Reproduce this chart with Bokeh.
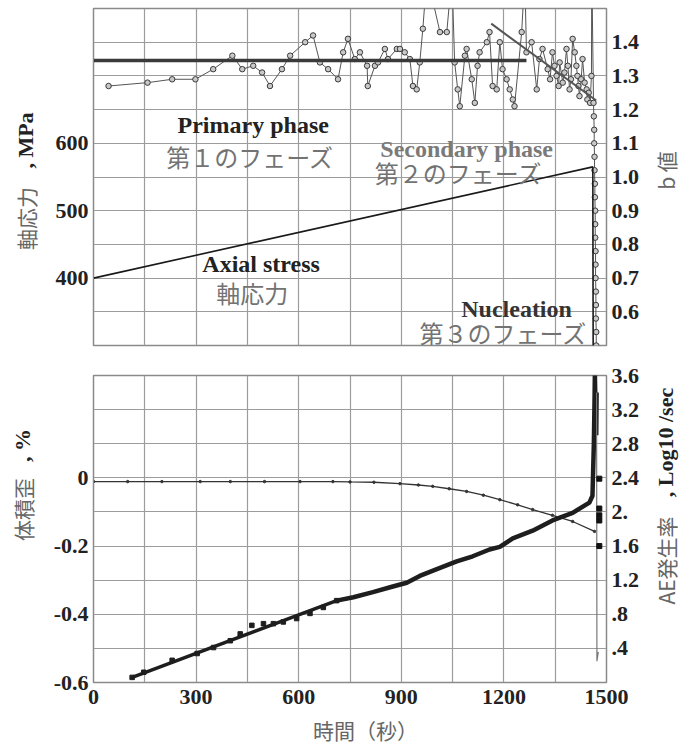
import math
from bokeh.plotting import figure
from bokeh.models import Range1d, LinearAxis, FixedTicker, Label
from bokeh.layouts import column, row
from bokeh.embed import file_html
from bokeh.resources import INLINE

# ---------------- data ----------------
# top panel: b value (right axis) vs time (s)
b_t = [44, 158, 230, 298, 350, 406, 435, 467, 493, 516,
       551, 575, 619, 642, 662, 686, 715, 730, 744, 764,
       779, 800, 802, 823, 832, 852, 861, 887, 896, 910,
       925, 934, 945, 954, 963, 975, 1013, 1033, 1048, 1056,
       1065, 1071, 1086, 1091, 1106, 1115, 1123, 1129, 1150, 1158,
       1167, 1179, 1188, 1196, 1208, 1217, 1226, 1231, 1252, 1261,
       1266, 1281, 1296, 1304, 1313, 1328, 1335, 1342, 1348, 1354,
       1360, 1363, 1372, 1377, 1383, 1387, 1392, 1396, 1401, 1407,
       1412, 1415, 1418, 1421, 1426, 1430, 1436, 1442, 1444, 1448,
       1452, 1456, 1457, 1462, 1463, 1464, 1464, 1465, 1465, 1466,
       1466, 1467, 1467, 1467, 1468, 1468, 1468, 1469, 1469, 1469,
       1470, 1470]
b_v = [1.27, 1.28, 1.29, 1.29, 1.32, 1.36, 1.32, 1.33, 1.31, 1.27,
       1.32, 1.36, 1.40, 1.42, 1.34, 1.32, 1.29, 1.37, 1.41, 1.35,
       1.37, 1.33, 1.27, 1.33, 1.34, 1.38, 1.35, 1.38, 1.38, 1.37,
       1.35, 1.27, 1.26, 1.34, 1.44, 1.60, 1.43, 1.43, 1.60, 1.34,
       1.26, 1.21, 1.36, 1.38, 1.29, 1.22, 1.33, 1.37, 1.40, 1.43,
       1.27, 1.26, 1.40, 1.32, 1.29, 1.26, 1.23, 1.21, 1.43, 1.60,
       1.37, 1.40, 1.26, 1.35, 1.38, 1.32, 1.29, 1.37, 1.33, 1.30,
       1.27, 1.34, 1.28, 1.31, 1.38, 1.33, 1.26, 1.29, 1.41, 1.37,
       1.33, 1.30, 1.27, 1.24, 1.29, 1.35, 1.28, 1.26, 1.23, 1.25,
       1.22, 1.30, 1.62, 1.22, 1.18, 1.14, 1.10, 1.06, 1.02, 0.98,
       0.94, 0.90, 0.86, 0.82, 0.78, 0.74, 0.70, 0.66, 0.62, 0.58,
       0.54, 0.50]
# b value fits (primary flat level, secondary decreasing trend)
bfit1_t = [0, 1266]
bfit1_v = [1.346, 1.346]
bfit2_t = [1163, 1470]
bfit2_v = [1.455, 1.227]
# axial stress (left axis, MPa)
stress_t = [0, 1460, 1461]
stress_v = [400, 565, 300]

# bottom panel: volumetric strain (%) and AE rate (log10 /sec)
strain_t = [0, 100, 200, 312, 400, 500, 604, 700, 750, 820,
            896, 950, 992, 1040, 1091, 1140, 1188, 1240, 1284, 1342,
            1401, 1465]
strain_v = [-0.011, -0.011, -0.011, -0.011, -0.011, -0.011, -0.011, -0.011, -0.012, -0.013,
            -0.017, -0.021, -0.025, -0.032, -0.040, -0.051, -0.064, -0.079, -0.093, -0.110,
            -0.128, -0.157]
# early AE readings (markers) and their straight trend
ae_early_t = [113, 147, 230, 303, 351, 400, 429, 463, 497, 526, 555, 594, 633, 672, 711]
ae_early_v = [0.06, 0.12, 0.26, 0.34, 0.41, 0.49, 0.57, 0.67, 0.69, 0.69, 0.71, 0.75, 0.81, 0.88, 0.96]
ae_trend_t = [113, 711]
ae_trend_v = [0.06, 0.96]
# later AE rate up to failure
ae_t = [711, 760, 817, 870, 916, 954, 1004, 1062, 1109, 1158,
        1188, 1226, 1284, 1342, 1401, 1450, 1459, 1463, 1465, 1466,
        1467, 1468, 1469, 1470, 1471]
ae_v = [0.96, 1.00, 1.06, 1.12, 1.17, 1.25, 1.33, 1.42, 1.48, 1.56,
        1.59, 1.69, 1.78, 1.90, 1.99, 2.11, 2.19, 2.80, 3.30, 3.62,
        3.40, 2.95, 3.35, 2.90, 3.40]
# collapse after failure (thin)
ae_drop_t = [1471, 1472, 1476]
ae_drop_v = [3.40, 0.25, 0.36]
ae_post_t = [1479, 1479, 1479, 1479, 1479]
ae_post_v = [2.39, 2.04, 1.96, 1.90, 1.60]

# axes / ticks
x_ticks = [0, 300, 600, 900, 1200, 1500]
stress_ticks = [400, 500, 600]
b_ticks = [0.6, 0.7, 0.8, 0.9, 1.0, 1.1, 1.2, 1.3, 1.4]
b_labels = ["0.6", "0.7", "0.8", "0.9", "1.0", "1.1", "1.2", "1.3", "1.4"]
strain_ticks = [-0.6, -0.4, -0.2, 0]
strain_labels = ["-0.6", "-0.4", "-0.2", "0"]
ae_ticks = [0.4, 0.8, 1.2, 1.6, 2.0, 2.4, 2.8, 3.2, 3.6]
ae_labels = [".4", ".8", "1.2", "1.6", "2.", "2.4", "2.8", "3.2", "3.6"]

# ---------------- styling ----------------
SERIF = "Liberation Serif"
CJK = "Noto Sans CJK JP"
GRID = "#9c9c9c"
OUTLINE = "#8a8a8a"
DARK = "#222222"
JGRAY = "#737373"
TGRAY = "#666666"
TICK_SIZE = "22px"

LW, MW, RW = 42, 600, 39          # widths: left title strip, main plot, right title strip
H1, H2, H3 = 357, 357, 32         # heights: top row, bottom row, x-title strip
BL, BR = 51, 35                   # main plot borders (left / right)
UP = math.pi / 2


def style_axis(ax):
    ax.major_label_text_font = SERIF
    ax.major_label_text_font_style = "bold"
    ax.major_label_text_font_size = TICK_SIZE
    ax.major_label_text_color = DARK
    ax.major_tick_in = 0
    ax.major_tick_out = 0
    ax.minor_tick_line_color = None
    ax.axis_line_color = OUTLINE
    ax.major_label_standoff = 5


def base(fig):
    fig.outline_line_color = OUTLINE
    fig.outline_line_width = 1.5
    fig.background_fill_color = "white"
    fig.border_fill_color = "white"
    for g in fig.grid:
        g.grid_line_color = GRID
        g.grid_line_width = 1.2


def lab(fig, text, x, y, size, color, font=SERIF, style="normal", angle=0.0,
        align="center", units="data"):
    fig.add_layout(Label(x=x, y=y, x_units=units, y_units=units, text=text,
                         text_font=font, text_font_size=size, text_color=color,
                         text_font_style=style, angle=angle, text_align=align,
                         text_baseline="middle"))


def strip(w, h):
    f = figure(width=w, height=h, x_range=Range1d(0, 1), y_range=Range1d(0, 1),
               x_axis_location=None, y_axis_location=None, output_backend="svg",
               toolbar_location=None, min_border=0, min_border_left=0, min_border_right=0,
               min_border_top=0, min_border_bottom=0)
    f.outline_line_color = None
    f.grid.visible = False
    f.background_fill_color = "white"
    f.border_fill_color = "white"
    return f


# ---------------- top panel ----------------
p1 = figure(width=MW, height=H1, x_range=Range1d(0, 1500), y_range=Range1d(300, 800),
            x_axis_location=None, output_backend="svg", toolbar_location=None,
            min_border_left=BL, min_border_right=BR, min_border_top=8, min_border_bottom=12)
p1.extra_y_ranges = {"b": Range1d(0.5, 1.5)}
base(p1)
p1.xgrid.ticker = FixedTicker(ticks=list(range(0, 1501, 150)))
p1.ygrid.ticker = FixedTicker(ticks=list(range(300, 801, 50)))
p1.yaxis.ticker = FixedTicker(ticks=stress_ticks)
style_axis(p1.yaxis[0])
axb = LinearAxis(y_range_name="b", ticker=FixedTicker(ticks=b_ticks),
                 major_label_overrides=dict(zip(b_ticks, b_labels)))
style_axis(axb)
p1.add_layout(axb, "right")

# b value data
p1.line(b_t, b_v, y_range_name="b", line_color="#555555", line_width=1)
p1.scatter(b_t, b_v, y_range_name="b", marker="circle", size=5.5,
           fill_color="#c8c8c8", line_color="#3a3a3a", line_width=1)
p1.line(bfit1_t, bfit1_v, y_range_name="b", line_color="#3a3a3a", line_width=3.5)
p1.line(bfit2_t, bfit2_v, y_range_name="b", line_color="#555555", line_width=2)
# axial stress
p1.line(stress_t, stress_v, line_color="#1a1a1a", line_width=1.6)

# phase labels
lab(p1, "Primary phase", 467, 627, "24px", DARK, style="bold")
lab(p1, "第１のフェーズ", 458, 581, "24px", JGRAY, font=CJK)
lab(p1, "Secondary phase", 1091, 591, "24px", "#7a7a7a", style="bold")
lab(p1, "第２のフェーズ", 1068, 557, "24px", JGRAY, font=CJK)
lab(p1, "Axial stress", 490, 421, "24px", DARK, style="bold")
lab(p1, "軸応力", 464, 379, "24px", JGRAY, font=CJK)
lab(p1, "Nucleation", 1237, 354, "24px", "#333333", style="bold")
lab(p1, "第３のフェーズ", 1199, 320, "24px", JGRAY, font=CJK)

# axis titles of top panel (centres)
l1 = strip(LW, H1)
lab(l1, "軸応力", 25, H1 - 230, "21px", TGRAY, font=CJK, angle=UP, units="screen")
lab(l1, ", MPa", 25, H1 - 152, "22px", DARK, style="bold", angle=UP, units="screen")
r1 = strip(RW, H1)
lab(r1, "b 値", 23, H1 - 182, "21px", TGRAY, font=CJK, angle=UP, units="screen")

# ---------------- bottom panel ----------------
p2 = figure(width=MW, height=H2, x_range=Range1d(0, 1500), y_range=Range1d(-0.6, 0.3),
            output_backend="svg", toolbar_location=None,
            min_border_left=BL, min_border_right=BR, min_border_top=18, min_border_bottom=32)
p2.extra_y_ranges = {"ae": Range1d(0, 3.6)}
base(p2)
p2.xgrid.ticker = FixedTicker(ticks=list(range(0, 1501, 150)))
p2.ygrid.ticker = FixedTicker(ticks=[round(-0.6 + 0.1 * i, 1) for i in range(10)])
p2.xaxis.ticker = FixedTicker(ticks=x_ticks)
style_axis(p2.xaxis[0])
p2.xaxis.major_label_standoff = 7
p2.yaxis.ticker = FixedTicker(ticks=strain_ticks)
p2.yaxis.major_label_overrides = dict(zip(strain_ticks, strain_labels))
style_axis(p2.yaxis[0])
axae = LinearAxis(y_range_name="ae", ticker=FixedTicker(ticks=ae_ticks),
                  major_label_overrides=dict(zip(ae_ticks, ae_labels)))
style_axis(axae)
p2.add_layout(axae, "right")

# volumetric strain
p2.line(strain_t, strain_v, line_color="#333333", line_width=1.3)
p2.scatter(strain_t, strain_v, marker="circle", size=2.5, color="#333333")
# AE rate
p2.line(ae_trend_t, ae_trend_v, y_range_name="ae", line_color="#1e1e1e", line_width=3.5)
p2.scatter(ae_early_t, ae_early_v, y_range_name="ae", marker="square", size=4.5, color="#1e1e1e")
p2.line(ae_t, ae_v, y_range_name="ae", line_color="#1e1e1e", line_width=4.5)
p2.line(ae_drop_t, ae_drop_v, y_range_name="ae", line_color="#777777", line_width=1.2)
p2.scatter(ae_post_t, ae_post_v, y_range_name="ae", marker="square", size=5, color="#111111")

# axis titles of bottom panel (page y of the row top is H1)
l2 = strip(LW, H2)
lab(l2, "体積歪", 22, H2 - (541 - H1), "21px", TGRAY, font=CJK, angle=UP, units="screen")
lab(l2, ", %", 22, H2 - (477 - H1), "22px", DARK, style="bold", angle=UP, units="screen")
r2 = strip(RW, H2)
lab(r2, "AE発生率", 23, H2 - (592 - H1), "21px", TGRAY, font=CJK, angle=UP, units="screen")
lab(r2, ", Log10 /sec", 23, H2 - (474 - H1), "22px", DARK, style="bold", angle=UP, units="screen")

b3 = strip(LW + MW + RW, H3)
lab(b3, "時間（秒）", 365, 17, "21px", TGRAY, font=CJK, units="screen")

layout = column(row(l1, p1, r1, spacing=0), row(l2, p2, r2, spacing=0), b3, spacing=0)
open("out.html", "w").write(file_html(layout, INLINE))
